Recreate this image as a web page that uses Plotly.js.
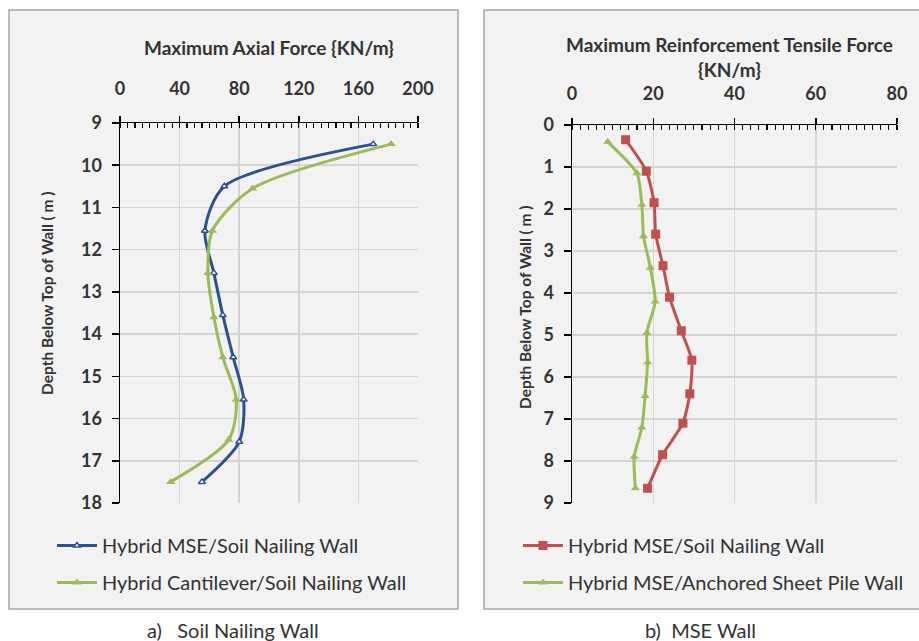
<!DOCTYPE html>
<html>
<head>
<meta charset="utf-8">
<script src="https://cdn.plot.ly/plotly-3.0.1.min.js"></script>
<style>html,body{margin:0;padding:0;background:#fff;}#chart{width:919px;height:641px;}</style>
</head>
<body>
<div id="chart"></div>
<script>
// ---- data ----
const seriesA1Name = "Hybrid MSE/Soil Nailing Wall";
const seriesA1Depth = [9.5, 10.5, 11.55, 12.55, 13.55, 14.55, 15.55, 16.55, 17.5];
const seriesA1Force = [170, 70, 57, 63, 69, 76, 83, 80, 55];

const seriesA2Name = "Hybrid Cantilever/Soil Nailing Wall";
const seriesA2Depth = [9.5, 10.55, 11.55, 12.55, 13.6, 14.55, 15.55, 16.5, 17.5];
const seriesA2Force = [182, 89, 62, 59, 63, 69, 78, 73, 34];

const seriesB1Name = "Hybrid MSE/Soil Nailing Wall";
const seriesB1Depth = [0.35, 1.1, 1.85, 2.6, 3.35, 4.1, 4.9, 5.6, 6.4, 7.1, 7.85, 8.65];
const seriesB1Force = [13.2, 18.3, 20.2, 20.6, 22.4, 24, 26.9, 29.5, 29, 27.3, 22.3, 18.6];

const seriesB2Name = "Hybrid MSE/Anchored Sheet Pile Wall";
const seriesB2Depth = [0.4, 1.15, 1.9, 2.65, 3.4, 4.2, 4.95, 5.65, 6.45, 7.2, 7.9, 8.65];
const seriesB2Force = [8.8, 16, 17.2, 17.6, 19.3, 20.5, 18.4, 18.6, 18, 17.2, 15.3, 15.6];

const xTitleA = "Maximum Axial Force {KN/m}";
const xTitleB = "Maximum Reinforcement Tensile Force<br>{KN/m}";
const yTitle = "Depth Below Top of Wall ( m )";
const captionA = "a)&nbsp;&nbsp;&nbsp;Soil Nailing Wall";
const captionB = "b)&nbsp;&nbsp;MSE Wall";

// ---- layout helpers ----
const W = 919, H = 641;
const px = x => x / W;
const py = y => 1 - y / H;

const FONT = "Lato, 'Open Sans', sans-serif";
const TXT = "#333333";
const BLUE = "#2b5190", GREEN = "#9bbb59", RED = "#c0504d";

const traces = [
  {x: seriesA1Force, y: seriesA1Depth, name: seriesA1Name, xaxis: 'x', yaxis: 'y', legend: 'legend', legendgroup: 'a1',
   mode: 'lines+markers', line: {color: BLUE, width: 3, shape: 'spline', smoothing: 0.8},
   marker: {symbol: 'triangle-up', size: 6, color: '#ffffff', line: {color: BLUE, width: 1.5}}},
  {x: seriesA2Force, y: seriesA2Depth, name: seriesA2Name, xaxis: 'x', yaxis: 'y', legend: 'legend', legendgroup: 'a2',
   mode: 'lines+markers', line: {color: GREEN, width: 3, shape: 'spline', smoothing: 0.8},
   marker: {symbol: 'triangle-up', size: 8, color: GREEN}},
  {x: seriesB1Force, y: seriesB1Depth, name: seriesB1Name, xaxis: 'x2', yaxis: 'y2', legend: 'legend2', legendgroup: 'b1',
   mode: 'lines+markers', line: {color: RED, width: 3, shape: 'spline', smoothing: 0.6},
   marker: {symbol: 'square', size: 9, color: RED}},
  {x: seriesB2Force, y: seriesB2Depth, name: seriesB2Name, xaxis: 'x2', yaxis: 'y2', legend: 'legend2', legendgroup: 'b2',
   mode: 'lines+markers', line: {color: GREEN, width: 3, shape: 'spline', smoothing: 0.6},
   marker: {symbol: 'triangle-up', size: 8, color: GREEN}}
];

const tickFont = {family: FONT, size: 18, color: TXT, weight: 'bold'};
function xAxis(domain, range, dtick, minor, anchor, standoff) {
  return {
    domain: domain, range: range, dtick: dtick, tick0: 0, side: 'top', anchor: anchor,
    showline: true, linecolor: '#000', linewidth: 1.5, mirror: false,
    showgrid: true, gridcolor: '#d4d4d4', gridwidth: 1.5, zeroline: false,
    ticks: 'outside', ticklen: 6, tickwidth: 1.5, tickcolor: '#000',
    minor: {dtick: minor, ticks: 'inside', ticklen: 5, tickwidth: 1.2, tickcolor: '#000', showgrid: false},
    tickfont: tickFont, ticklabelstandoff: standoff,
    fixedrange: true
  };
}
function yAxis(domain, range, anchor) {
  return {
    domain: domain, range: range, dtick: 1, anchor: anchor,
    showline: true, linecolor: '#000', linewidth: 1.5,
    showgrid: true, gridcolor: '#d4d4d4', gridwidth: 1.5, zeroline: false,
    ticks: 'outside', ticklen: 7, tickwidth: 1.5, tickcolor: '#000',
    tickfont: tickFont, ticklabelstandoff: 6,
    fixedrange: true
  };
}

const legendBase = {
  orientation: 'v', bgcolor: 'rgba(0,0,0,0)', borderwidth: 0,
  font: {family: FONT, size: 20, color: TXT}, itemwidth: 40,
  traceorder: 'grouped', tracegroupgap: 8, xanchor: 'left', yanchor: 'top'
};

const titleFont = {family: FONT, size: 19, color: TXT, weight: 'bold'};
const yTitleFont = {family: FONT, size: 15.5, color: TXT, weight: 'bold'};
const capFont = {family: FONT, size: 20, color: TXT};

const layout = {
  width: W, height: H,
  margin: {l: 0, r: 0, t: 0, b: 0},
  paper_bgcolor: '#ffffff', plot_bgcolor: '#ffffff',
  showlegend: true,
  xaxis: xAxis([px(120), px(418)], [0, 200], 40, 5, 'y', 13),
  yaxis: yAxis([py(503), py(123)], [18, 9], 'x'),
  xaxis2: xAxis([px(572), px(897)], [0, 80], 20, 2, 'y2', 10),
  yaxis2: yAxis([py(503), py(125)], [9, 0], 'x2'),
  legend: Object.assign({}, legendBase, {x: px(52), y: py(526)}),
  legend2: Object.assign({}, legendBase, {x: px(518), y: py(526)}),
  shapes: [
    {type: 'rect', xref: 'paper', yref: 'paper', x0: px(9), x1: px(458), y0: py(609), y1: py(10),
     fillcolor: '#f2f2f2', line: {color: '#a6a6a6', width: 1.5}, layer: 'below'},
    {type: 'rect', xref: 'paper', yref: 'paper', x0: px(484), x1: px(930), y0: py(609), y1: py(10),
     fillcolor: '#f2f2f2', line: {color: '#a6a6a6', width: 1.5}, layer: 'below'}
  ],
  annotations: [
    {text: xTitleA, xref: 'paper', yref: 'paper', x: px(269), y: py(47), xanchor: 'center', yanchor: 'middle',
     showarrow: false, font: titleFont},
    {text: xTitleB, xref: 'paper', yref: 'paper', x: px(729), y: py(57), xanchor: 'center', yanchor: 'middle',
     showarrow: false, font: titleFont},
    {text: yTitle, xref: 'paper', yref: 'paper', x: px(47), y: py(293), xanchor: 'center', yanchor: 'middle',
     textangle: -90, showarrow: false, font: yTitleFont},
    {text: yTitle, xref: 'paper', yref: 'paper', x: px(525), y: py(307), xanchor: 'center', yanchor: 'middle',
     textangle: -90, showarrow: false, font: yTitleFont},
    {text: captionA, xref: 'paper', yref: 'paper', x: px(233), y: py(630), xanchor: 'center', yanchor: 'middle',
     showarrow: false, font: capFont},
    {text: captionB, xref: 'paper', yref: 'paper', x: px(700), y: py(630), xanchor: 'center', yanchor: 'middle',
     showarrow: false, font: capFont}
  ]
};

Plotly.newPlot('chart', traces, layout, {displayModeBar: false, staticPlot: true});
</script>
</body>
</html>
